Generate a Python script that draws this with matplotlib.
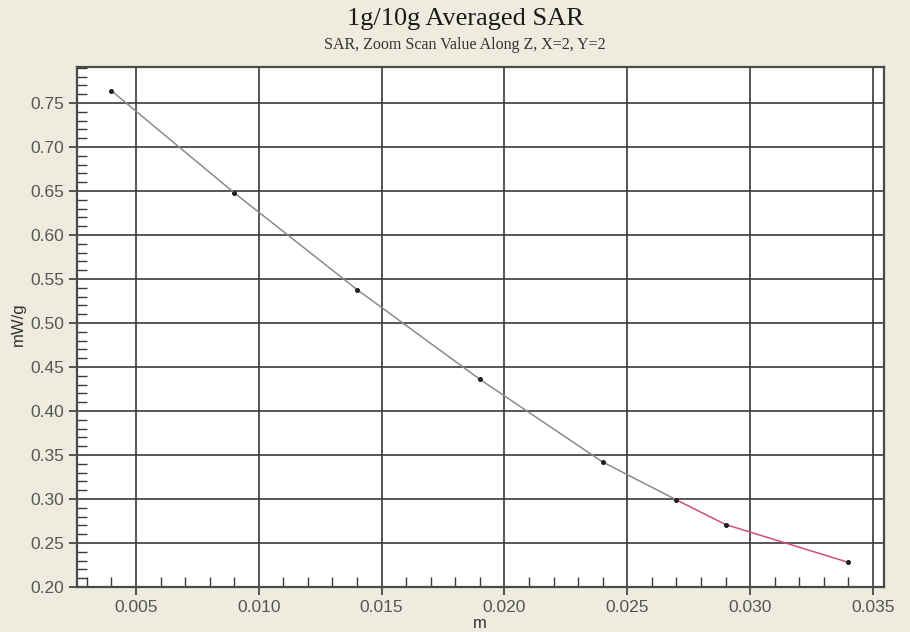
import matplotlib
matplotlib.use("Agg")
import matplotlib.pyplot as plt
from matplotlib.ticker import MultipleLocator, FormatStrFormatter

# Zoom scan values along Z at X=2, Y=2
depth_m = [0.004, 0.009, 0.014, 0.019, 0.024, 0.027, 0.029, 0.034]
sar_mw_g = [0.764, 0.648, 0.538, 0.436, 0.342, 0.299, 0.271, 0.228]
split_idx = 5  # tail of the profile drawn in red

title = "1g/10g Averaged SAR"
subtitle = "SAR, Zoom Scan Value Along Z, X=2, Y=2"
x_label = "m"
y_label = "mW/g"

bg = "#EEECDF"
grid_col = "#3a3a3a"
tick_col = "#555555"

fig = plt.figure(figsize=(9.1, 6.32), dpi=100, facecolor=bg)
ax = fig.add_axes([77 / 910, 1 - 587 / 632, (884 - 77) / 910, (587 - 67) / 632])
ax.set_facecolor("white")

ax.set_xlim(0.0026, 0.03545)
ax.set_ylim(0.20, 0.791)

ax.xaxis.set_major_locator(MultipleLocator(0.005))
ax.xaxis.set_minor_locator(MultipleLocator(0.001))
ax.yaxis.set_major_locator(MultipleLocator(0.05))
ax.yaxis.set_minor_locator(MultipleLocator(0.01))
ax.xaxis.set_major_formatter(FormatStrFormatter("%.3f"))
ax.yaxis.set_major_formatter(FormatStrFormatter("%.2f"))

ax.grid(True, which="major", color=grid_col, linewidth=1.2)
ax.set_axisbelow(True)

ax.tick_params(which="major", direction="out", length=6, width=1.2,
               color=grid_col, labelsize=12.5, labelcolor=tick_col, pad=3)
ax.tick_params(which="minor", direction="in", length=7, width=1.0, color=grid_col)
for lab in ax.get_xticklabels() + ax.get_yticklabels():
    lab.set_family("Liberation Sans")

for sp in ax.spines.values():
    sp.set_color("#4a4a4a")
    sp.set_linewidth(1.6)

ax.plot(depth_m[:split_idx + 1], sar_mw_g[:split_idx + 1], color="#8a8a8a",
        linewidth=1.1, zorder=3)
ax.plot(depth_m[split_idx:], sar_mw_g[split_idx:], color="#d0507a",
        linewidth=1.1, zorder=3)
ax.plot(depth_m, sar_mw_g, linestyle="none", marker="o", markersize=2.6,
        color="#202020", zorder=4)

fig.text(465 / 910, 1 - 19 / 632, title, ha="center", va="center",
         family="Liberation Serif", fontsize=19, color="#1a1a1a")
fig.text(465 / 910, 1 - 45 / 632, subtitle, ha="center", va="center",
         family="Liberation Serif", fontsize=11.5, color="#333333")
fig.text(18 / 910, 1 - 324 / 632, y_label, rotation=90, ha="center", va="center",
         family="Liberation Sans", fontsize=12, color="#333333")
fig.text(480 / 910, 1 - 623 / 632, x_label, ha="center", va="center",
         family="Liberation Sans", fontsize=12, color="#333333")

fig.savefig("out.png", dpi=100, facecolor=bg)
